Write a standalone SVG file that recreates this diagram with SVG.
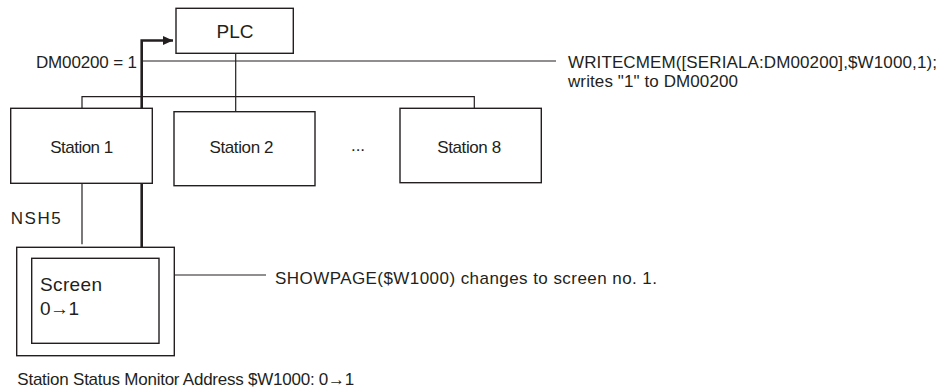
<svg xmlns="http://www.w3.org/2000/svg" width="941" height="389" viewBox="0 0 941 389">
<style>
  .box{fill:#fff;stroke:#231f20;stroke-width:1.4}
  .ln{fill:none;stroke:#231f20;stroke-width:1.2}
  .thk{fill:none;stroke:#231f20;stroke-width:2.6}
  text{font-family:"Liberation Sans",Arial,Helvetica,sans-serif;fill:#231f20;font-size:17px}
  .c{text-anchor:middle}
  .big{font-size:19px}
</style>
<defs>
  <marker id="ah" markerWidth="10" markerHeight="9" refX="10" refY="4.5" orient="auto" markerUnits="userSpaceOnUse">
    <path d="M0,0 L10,4.5 L0,9 Z" fill="#231f20"/>
  </marker>
</defs>
<g id="connectors">
  <line class="ln" x1="235.7" y1="53" x2="235.7" y2="111.7"/>
  <polyline class="ln" points="82,108.3 82,96.7 474.3,96.7 474.3,108.3"/>
  <line class="ln" x1="143" y1="61" x2="556" y2="61"/>
  <polyline class="thk" points="141.7,108.3 141.7,40.5 173,40.5" marker-end="url(#ah)"/>
  <line class="ln" x1="82" y1="183.3" x2="82" y2="244.3"/>
  <line class="thk" x1="141.7" y1="183.3" x2="141.7" y2="247.3"/>
  <line class="ln" x1="155.7" y1="275" x2="266" y2="275"/>
</g>
<g id="plc">
  <rect class="box" x="176" y="8.3" width="117.3" height="45"/>
  <text class="c big" x="235" y="37.7">PLC</text>
</g>
<g id="station1">
  <rect class="box" x="10.7" y="108.3" width="141.6" height="75"/>
  <text class="c" x="81.7" y="153.3" textLength="63" lengthAdjust="spacing">Station 1</text>
</g>
<g id="station2">
  <rect class="box" x="174" y="111.7" width="141" height="74"/>
  <text class="c" x="241.5" y="153.3" textLength="64" lengthAdjust="spacing">Station 2</text>
</g>
<g id="ellipsis">
  <text class="c" x="358" y="150.8" textLength="14" lengthAdjust="spacing">...</text>
</g>
<g id="station8">
  <rect class="box" x="400" y="108.3" width="141.3" height="74.4"/>
  <text class="c" x="469.2" y="153.3" textLength="64" lengthAdjust="spacing">Station 8</text>
</g>
<g id="nsh5">
  <rect class="box" x="16.7" y="247.3" width="157.6" height="108.4"/>
  <rect class="box" x="31.7" y="258.3" width="127.3" height="85"/>
  <text class="big" x="40" y="290.7" textLength="62" lengthAdjust="spacing">Screen</text>
  <text class="big" x="40" y="315" textLength="39" lengthAdjust="spacing">0→1</text>
</g>
<g id="labels">
  <text x="36" y="68.3" textLength="101" lengthAdjust="spacing">DM00200 = 1</text>
  <text x="568" y="67.5" textLength="369" lengthAdjust="spacing">WRITECMEM([SERIALA:DM00200],$W1000,1);</text>
  <text x="568" y="86.5" textLength="170" lengthAdjust="spacing">writes "1" to DM00200</text>
  <text x="10.7" y="224.3" font-size="18" textLength="50" lengthAdjust="spacing">NSH5</text>
  <text x="275" y="284" textLength="382" lengthAdjust="spacing">SHOWPAGE($W1000) changes to screen no. 1.</text>
  <text x="17.3" y="385" textLength="337" lengthAdjust="spacing">Station Status Monitor Address $W1000: 0→1</text>
</g>
</svg>
